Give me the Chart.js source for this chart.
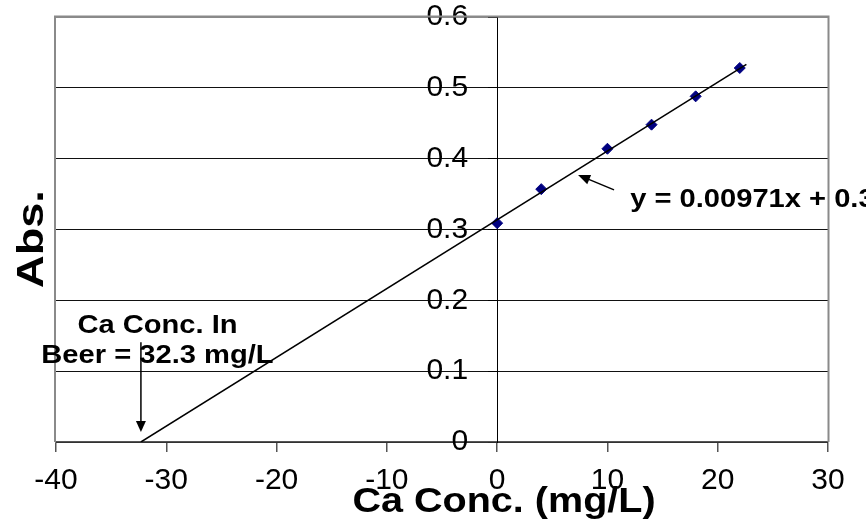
<!DOCTYPE html>
<html><head><meta charset="utf-8">
<script src="https://cdn.jsdelivr.net/npm/chart.js@4"></script>
<style>html,body{margin:0;padding:0;background:#fff;overflow:hidden}canvas{display:block}</style>
</head><body>
<canvas id="c" width="866" height="525"></canvas>
<script>
// ---- data ----
const concentrations = [0, 4, 10, 14, 18, 22];
const absorbances = [0.309, 0.357, 0.414, 0.448, 0.488, 0.528];
const trendX = [-32.3, 22.6];
const trendY = [0.0, 0.533];
const xTickLabels = ['-40', '-30', '-20', '-10', '0', '10', '20', '30'];
const yTickLabels = ['0', '0.1', '0.2', '0.3', '0.4', '0.5', '0.6'];
const xTitle = 'Ca Conc. (mg/L)';
const yTitle = 'Abs.';
const equationText = 'y = 0.00971x + 0.314';
const beerNote = ['Ca Conc. In', 'Beer = 32.3 mg/L'];

const REG = "'Liberation Sans', Arial, sans-serif";
const Y_LABEL_GAP = 29; // distance from axis line to right edge of y tick labels

function stretchedText(ctx, text, x, y, font, align, sx, rot) {
  ctx.save();
  ctx.translate(x, y);
  if (rot) ctx.rotate(rot);
  ctx.scale(sx, 1);
  ctx.font = font;
  ctx.textAlign = align;
  ctx.textBaseline = 'alphabetic';
  ctx.fillStyle = '#000';
  ctx.fillText(text, 0, 0);
  ctx.restore();
}
function arrow(ctx, x1, y1, x2, y2, head, half) {
  const ang = Math.atan2(y2 - y1, x2 - x1);
  ctx.save();
  ctx.strokeStyle = '#000'; ctx.fillStyle = '#000'; ctx.lineWidth = 1.5;
  ctx.beginPath();
  ctx.moveTo(x1, y1);
  ctx.lineTo(x2 - Math.cos(ang) * head * 0.8, y2 - Math.sin(ang) * head * 0.8);
  ctx.stroke();
  ctx.beginPath();
  ctx.moveTo(x2, y2);
  ctx.lineTo(x2 - Math.cos(ang) * head - Math.sin(ang) * half, y2 - Math.sin(ang) * head + Math.cos(ang) * half);
  ctx.lineTo(x2 - Math.cos(ang) * head + Math.sin(ang) * half, y2 - Math.sin(ang) * head - Math.cos(ang) * half);
  ctx.closePath();
  ctx.fill();
  ctx.restore();
}

const decor = {
  id: 'decor',
  beforeDraw(chart) {
    // shift the y tick labels (axis sits at x = 0) to the left of their tick marks
    const ys = chart.scales.y;
    const axisX = chart.scales.x.getPixelForValue(0);
    ys.getLabelItems().forEach(it => { it.options.translation[0] = axisX - Y_LABEL_GAP; });
  },
  beforeDatasetsDraw(chart) {
    const {ctx, chartArea: a} = chart;
    ctx.save();
    ctx.strokeStyle = '#8a8a8a';
    ctx.lineWidth = 2;
    ctx.beginPath();
    ctx.moveTo(a.left - 1, a.bottom);
    ctx.lineTo(a.left - 1, a.top - 0.5);
    ctx.lineTo(a.right + 0.5, a.top - 0.5);
    ctx.lineTo(a.right + 0.5, a.bottom);
    ctx.stroke();
    ctx.restore();
  },
  afterDraw(chart) {
    const {ctx, scales: {x, y}} = chart;
    const B = (s) => "bold " + s + "px " + REG;
    // axis titles
    stretchedText(ctx, xTitle, 504, 512, B(35), 'center', 1.13, 0);
    stretchedText(ctx, yTitle, 43, 239, B(37), 'center', 1.22, -Math.PI / 2);
    // regression equation + arrow
    stretchedText(ctx, equationText, x.getPixelForValue(12.06), y.getPixelForValue(0.332), B(26), 'left', 1.12, 0);
    arrow(ctx, x.getPixelForValue(10.6), y.getPixelForValue(0.356), x.getPixelForValue(7.34), y.getPixelForValue(0.377), 12, 5);
    // beer note + arrow
    const cx = x.getPixelForValue(-30.8);
    stretchedText(ctx, beerNote[0], cx, y.getPixelForValue(0.154), B(26), 'center', 1.12, 0);
    stretchedText(ctx, beerNote[1], cx, y.getPixelForValue(0.1115), B(26), 'center', 1.12, 0);
    arrow(ctx, x.getPixelForValue(-32.3), y.getPixelForValue(0.141), x.getPixelForValue(-32.3), y.getPixelForValue(0.014), 11, 5);
  }
};

new Chart(document.getElementById('c'), {
  type: 'scatter',
  data: {
    datasets: [
      {
        label: 'Linear trend',
        data: trendX.map((v, i) => ({x: v, y: trendY[i]})),
        showLine: true,
        borderColor: '#000',
        borderWidth: 1.5,
        pointRadius: 0,
        order: 0
      },
      {
        label: 'Standards',
        data: concentrations.map((v, i) => ({x: v, y: absorbances[i]})),
        showLine: false,
        pointStyle: 'rectRot',
        pointRadius: 5.5,
        backgroundColor: '#000080',
        borderColor: '#000080',
        borderWidth: 1,
        order: 1
      }
    ]
  },
  options: {
    responsive: false,
    animation: false,
    devicePixelRatio: 1,
    layout: {padding: {left: 56, right: 38, top: 17, bottom: 0}},
    plugins: {legend: {display: false}, tooltip: {enabled: false}},
    scales: {
      x: {
        type: 'linear',
        position: 'bottom',
        min: -40, max: 30,
        afterFit: (s) => { s.height = 83; },
        grid: {drawOnChartArea: false, drawTicks: true, tickLength: 10, color: '#555', lineWidth: 1.5},
        border: {display: true, color: '#555', width: 1.5},
        ticks: {
          stepSize: 10,
          padding: 14,
          color: '#000',
          font: {family: REG, size: 30, lineHeight: 1},
          maxRotation: 0,
          callback: (v, i) => xTickLabels[i]
        }
      },
      y: {
        type: 'linear',
        position: {x: 0},
        min: 0, max: 0.6,
        afterFit: (s) => { s.paddingTop = 0; s.paddingBottom = 0; s.paddingLeft = 0; s.paddingRight = 0; },
        grid: {
          color: (c) => c.index === 6 ? '#8a8a8a' : '#111',
          tickColor: '#000',
          lineWidth: 1,
          tickLength: 9,
          drawTicks: true
        },
        border: {display: true, color: '#000', width: 1},
        ticks: {
          stepSize: 0.1,
          padding: 20,
          color: '#000',
          font: {family: REG, size: 30, lineHeight: 1},
          callback: (v, i) => yTickLabels[i]
        }
      }
    }
  },
  plugins: [decor]
});
</script>
</body></html>
